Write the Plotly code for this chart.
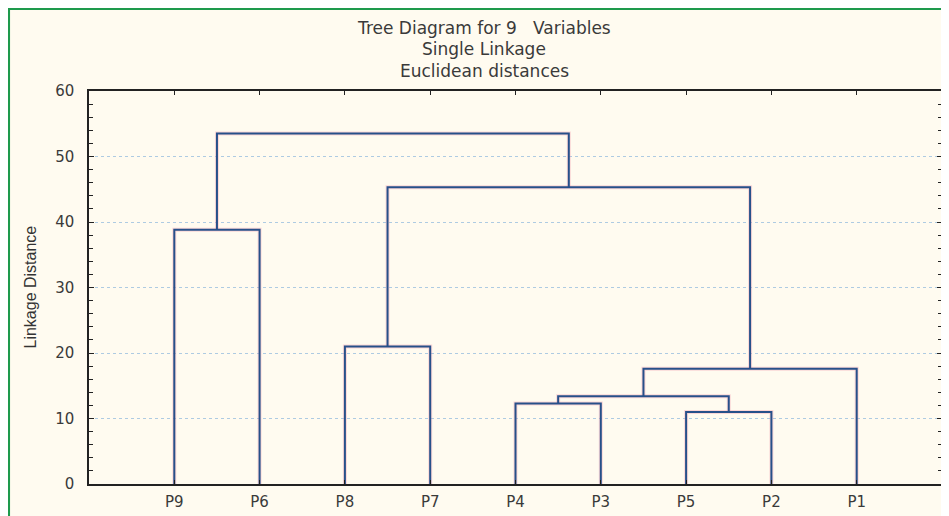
import plotly.graph_objects as go

# ---------------- data ----------------
leaf_labels = ["P9", "P6", "P8", "P7", "P4", "P3", "P5", "P2", "P1"]
# merges in order; "Ck" = cluster formed by k-th merge (1-based)
merge_a = ["P5", "P4", "C2", "C3", "P8", "P9", "C5", "C6"]
merge_b = ["P2", "P3", "C1", "P1", "P7", "P6", "C4", "C7"]
merge_height = [11.0, 12.3, 13.4, 17.6, 21.0, 38.8, 45.3, 53.5]
y_ticks = [0, 10, 20, 30, 40, 50, 60]
title_lines = ["Tree Diagram for 9\u00a0\u00a0 Variables", "Single Linkage", "Euclidean distances"]
y_title = "Linkage Distance"

# ---------------- build dendrogram paths ----------------
pos = {lab: (float(i), 0.0) for i, lab in enumerate(leaf_labels)}
xs, ys = [], []
for k, (a, b, h) in enumerate(zip(merge_a, merge_b, merge_height), start=1):
    xa, ha = pos[a]
    xb, hb = pos[b]
    xs += [xa, xa, xb, xb, None]
    ys += [ha, h, h, hb, None]
    pos["C%d" % k] = ((xa + xb) / 2.0, h)

cream = "#fffbf0"
fig = go.Figure()
fig.add_trace(go.Scatter(x=xs, y=ys, mode="lines", hoverinfo="skip",
                         line=dict(color="rgba(240,150,170,0.35)", width=4),
                         showlegend=False))
fig.add_trace(go.Scatter(x=xs, y=ys, mode="lines",
                         line=dict(color="#27508a", width=2),
                         showlegend=False))

# page has an 8px body margin: work in figure pixel coordinates
W, H = 941, 508
L, R, T, B = 81, 7, 83, 32
pw, ph = W - L - R, H - T - B

def px_x(x):
    return (x - L) / pw

def px_y(y):
    return (H - B - y) / ph

shapes = [dict(type="rect", xref="paper", yref="paper",
               x0=px_x(0.8), x1=px_x(960), y0=px_y(540), y1=px_y(0.8),
               line=dict(color="#1e9a4c", width=2.5), fillcolor=cream, layer="below")]

annotations = []
for txt, ypx in zip(title_lines, [20, 41, 63]):
    annotations.append(dict(text=txt, xref="paper", yref="paper", x=px_x(476), y=px_y(ypx),
                            xanchor="center", yanchor="middle", showarrow=False,
                            font=dict(family="DejaVu Sans", size=17, color="#3a3a3a")))
annotations.append(dict(text=y_title, xref="paper", yref="paper", x=px_x(22), y=0.5,
                        textangle=-90, xanchor="center", yanchor="middle", showarrow=False,
                        font=dict(family="Liberation Sans Narrow, Arial Narrow, sans-serif",
                                  size=16, color="#333333")))

fig.update_layout(
    width=W, height=H,
    margin=dict(l=L, r=R, t=T, b=B, pad=0, autoexpand=False),
    paper_bgcolor="white",
    plot_bgcolor=cream,
    shapes=shapes,
    annotations=annotations,
    xaxis=dict(range=[-1, 9], tickmode="array", tickvals=list(range(len(leaf_labels))),
               ticktext=leaf_labels, showgrid=False, zeroline=False, automargin=False,
               showline=True, linecolor="#222222", linewidth=1.5, mirror="ticks",
               ticks="inside", ticklen=4, tickcolor="#222222",
               ticklabelstandoff=3,
               tickfont=dict(family="DejaVu Sans", size=15, color="#3a3a3a")),
    yaxis=dict(range=[0, 60], tickmode="array", tickvals=y_ticks, automargin=False,
               showgrid=True, gridcolor="#aecbe2", griddash="dot", gridwidth=1,
               zeroline=False,
               showline=True, linecolor="#222222", linewidth=1.5, mirror="ticks",
               ticks="inside", ticklen=5, tickcolor="#222222",
               minor=dict(dtick=2, ticks="inside", ticklen=4, tickcolor="#222222", showgrid=False),
               ticklabelstandoff=10,
               tickfont=dict(family="DejaVu Sans", size=15, color="#3a3a3a")),
)

fig.write_html("out.html")
